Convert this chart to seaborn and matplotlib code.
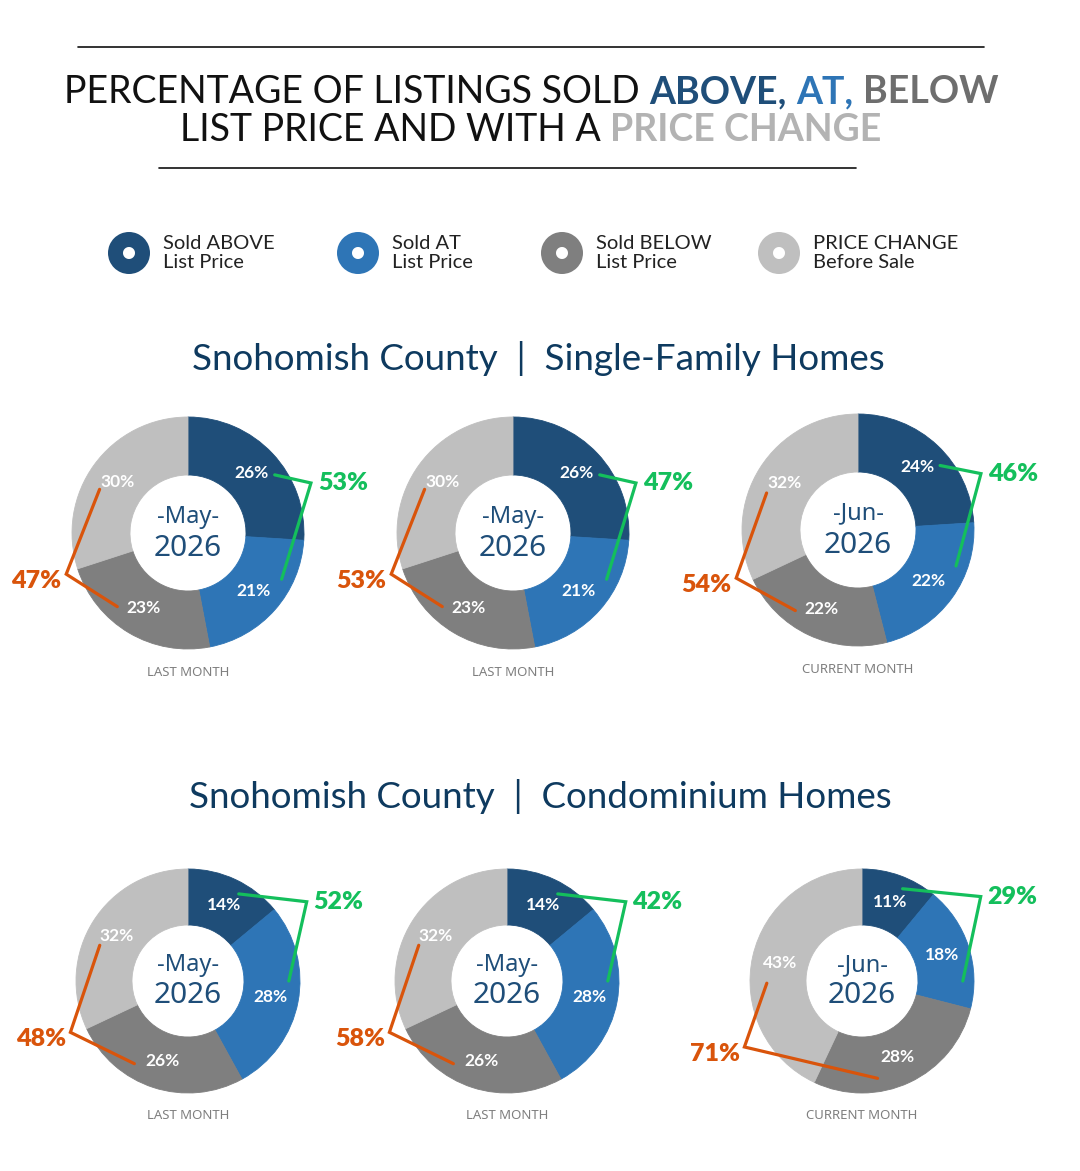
import numpy as np
import matplotlib
matplotlib.use("Agg")
import matplotlib.pyplot as plt
import seaborn as sns
from matplotlib.patches import Wedge

# --- datos ---
CATEGORIES = ["Sold ABOVE\nList Price", "Sold AT\nList Price",
              "Sold BELOW\nList Price", "PRICE CHANGE\nBefore Sale"]
YEAR = "2026"

SFH_MONTHS = ["May", "May", "Jun"]
SFH_CAPTIONS = ["LAST MONTH", "LAST MONTH", "CURRENT MONTH"]
SFH_ABOVE = [26, 26, 24]
SFH_AT = [21, 21, 22]
SFH_BELOW = [23, 23, 22]
SFH_CHANGE = [30, 30, 32]
SFH_GREEN = [53, 47, 46]
SFH_ORANGE = [47, 53, 54]

CONDO_MONTHS = ["May", "May", "Jun"]
CONDO_CAPTIONS = ["LAST MONTH", "LAST MONTH", "CURRENT MONTH"]
CONDO_ABOVE = [14, 14, 11]
CONDO_AT = [28, 28, 18]
CONDO_BELOW = [26, 26, 28]
CONDO_CHANGE = [32, 32, 43]
CONDO_GREEN = [52, 42, 29]
CONDO_ORANGE = [48, 58, 71]

# --- estilo ---
sns.set_theme(style="white")
plt.rcParams["font.family"] = ["Lato", "DejaVu Sans"]
NOTO = ["Noto Sans", "DejaVu Sans"]

PALETTE = sns.color_palette(["#1F4E79", "#2E75B6", "#7F7F7F", "#BFBFBF"])
GREEN = "#14BF5C"
ORANGE = "#D9540B"
NAVY = "#0E3A5F"

W, H = 1080, 1171
fig = plt.figure(figsize=(W / 100, H / 100), dpi=100)
fig.patch.set_facecolor("white")
bg = fig.add_axes([0, 0, 1, 1])
bg.set_xlim(0, W)
bg.set_ylim(H, 0)
bg.axis("off")
renderer = fig.canvas.get_renderer()


def text_width(s, **kw):
    t = bg.text(0, 0, s, **kw)
    w = t.get_window_extent(renderer).width
    t.remove()
    return w


def rich_line(pieces, cx, y, size):
    # pieces: (texto, color, peso); centra la línea completa en cx
    gap = text_width("x x", fontsize=size) - text_width("xx", fontsize=size)
    widths = [text_width(p, fontsize=size, fontweight=wt) for p, c, wt in pieces]
    total = sum(widths) + gap * (len(pieces) - 1)
    x = cx - total / 2
    for (p, c, wt), w in zip(pieces, widths):
        bg.text(x, y, p, fontsize=size, fontweight=wt, color=c,
                ha="left", va="baseline")
        x += w + gap


# --- cabecera ---
bg.plot([78, 984], [47, 47], color="#111111", lw=1.2)
bg.plot([159, 856], [168, 168], color="#111111", lw=1.2)
rich_line([("PERCENTAGE OF LISTINGS SOLD", "#111111", "normal"),
           ("ABOVE,", PALETTE[0], "bold"),
           ("AT,", PALETTE[1], "bold"),
           ("BELOW", "#6E6E6E", "bold")], 531, 103, 27)
rich_line([("LIST PRICE AND WITH A", "#111111", "normal"),
           ("PRICE CHANGE", "#B3B3B3", "bold")], 531, 141, 27)

# --- leyenda ---
legend_x = [129, 358, 562, 779]
for x, lab, col in zip(legend_x, CATEGORIES, PALETTE):
    bg.add_patch(Wedge((x, 253), 21, 0, 360, width=15, facecolor=col, lw=0))
    bg.text(x + 34, 253, lab, fontsize=14.5, color="#222222", ha="left",
            va="center", linespacing=1.12, fontweight="normal")

# --- títulos de sección ---
bg.text(538, 370, "Snohomish County  |  Single-Family Homes", fontsize=26.5,
        color=NAVY, ha="center", va="baseline")
bg.text(540, 808, "Snohomish County  |  Condominium Homes", fontsize=26.5,
        color=NAVY, ha="center", va="baseline")


def polar(theta, r):
    t = np.deg2rad(theta)
    return r * np.sin(t), r * np.cos(t)


def donut(cx, cy, R, values, month, caption, green, orange):
    L = 1.75
    side = 2 * L * R
    ax = fig.add_axes([(cx - L * R) / W, (H - cy - L * R) / H, side / W, side / H])
    wedges, _ = ax.pie(values, colors=PALETTE, startangle=90, counterclock=False,
                       radius=1, wedgeprops=dict(width=0.5, linewidth=0.6))
    for w in wedges:
        w.set_edgecolor(w.get_facecolor())
    ax.set_xlim(-L, L)
    ax.set_ylim(-L, L)
    ax.set_aspect("equal")
    ax.axis("off")

    frac = np.array(values) / sum(values)
    cum = np.concatenate([[0], np.cumsum(frac)])
    for i, v in enumerate(values):
        x, y = polar(360 * (cum[i] + cum[i + 1]) / 2, 0.75)
        ax.text(x, y, f"{v}%", color="white", fontsize=12.5, fontweight="bold",
                ha="center", va="center")

    ax.text(0, 0.14, f"-{month}-", color=PALETTE[0], fontsize=17,
            family=NOTO, ha="center", va="center")
    ax.text(0, -0.13, YEAR, color=PALETTE[0], fontsize=21.5,
            family=NOTO, ha="center", va="center")
    ax.text(0, -1.2, caption, color="#7F7F7F", fontsize=9.5,
            family=NOTO, ha="center", va="center")

    # corchete verde: ABOVE + AT
    gs = polar(360 * (cum[0] + 0.6 * frac[0]), 0.9)
    ge = polar(360 * max(cum[1] + 0.3 * frac[1], 0.25), 0.9)
    gv = (1.06, gs[1] - 0.07)
    ax.plot([gs[0], gv[0], ge[0]], [gs[1], gv[1], ge[1]], color=GREEN, lw=2.3,
            solid_joinstyle="miter", clip_on=False)
    ax.text(gv[0] + 0.06, gv[1], f"{green}%", color=GREEN, fontsize=18,
            fontweight="heavy", ha="left", va="center", clip_on=False)

    # corchete naranja: BELOW + PRICE CHANGE
    os_ = polar(360 * (cum[3] + 0.41 * frac[3]), 0.85)
    oe = polar(360 * (cum[2] + 0.66 * frac[2]), 0.88)
    ov = (-1.05, oe[1] + 0.28)
    ax.plot([os_[0], ov[0], oe[0]], [os_[1], ov[1], oe[1]], color=ORANGE, lw=2.3,
            solid_joinstyle="miter", clip_on=False)
    ax.text(ov[0] - 0.04, ov[1] - 0.06, f"{orange}%", color=ORANGE, fontsize=18,
            fontweight="heavy", ha="right", va="center", clip_on=False)


row1 = [(188, 533), (513, 533), (858, 530)]
for i, (cx, cy) in enumerate(row1):
    vals = [SFH_ABOVE[i], SFH_AT[i], SFH_BELOW[i], SFH_CHANGE[i]]
    donut(cx, cy, 116, vals, SFH_MONTHS[i], SFH_CAPTIONS[i], SFH_GREEN[i], SFH_ORANGE[i])

row2 = [(188, 981), (507, 981), (862, 981)]
for i, (cx, cy) in enumerate(row2):
    vals = [CONDO_ABOVE[i], CONDO_AT[i], CONDO_BELOW[i], CONDO_CHANGE[i]]
    donut(cx, cy, 112, vals, CONDO_MONTHS[i], CONDO_CAPTIONS[i], CONDO_GREEN[i], CONDO_ORANGE[i])

fig.savefig("out.png", dpi=100, facecolor="white")
